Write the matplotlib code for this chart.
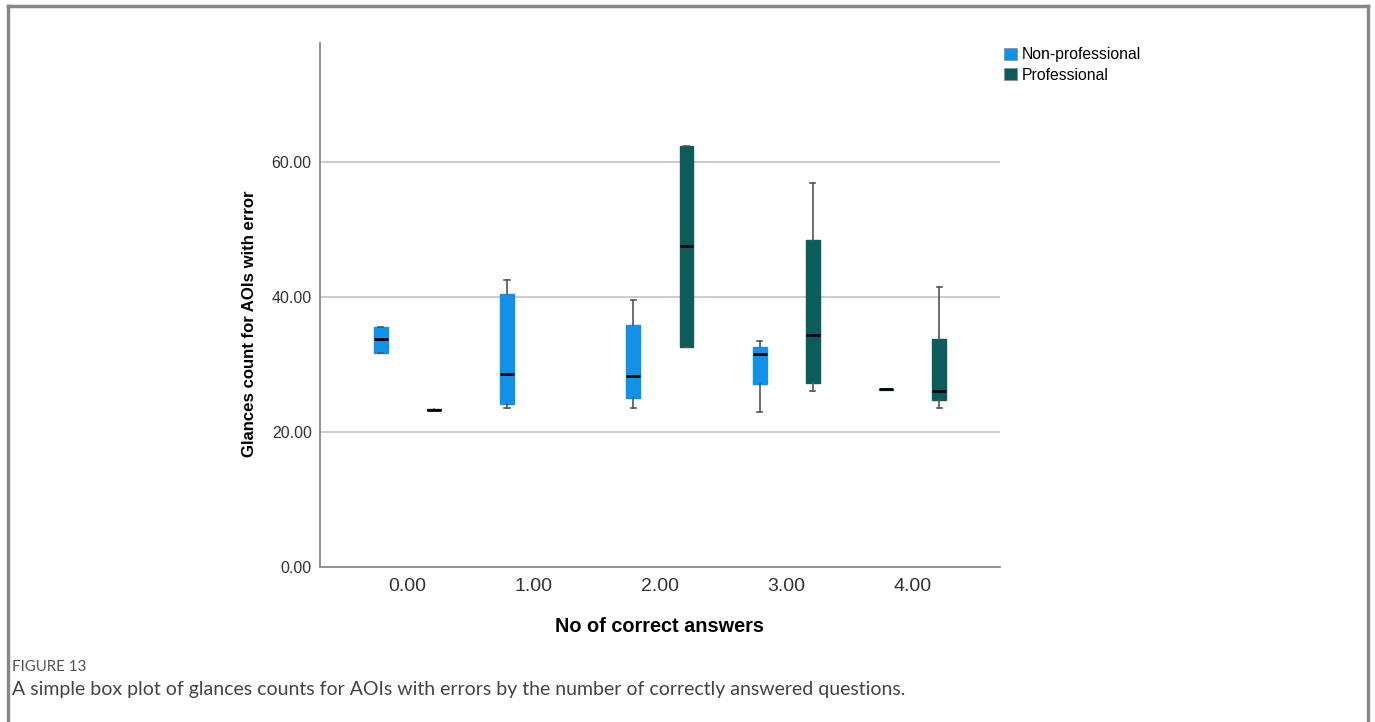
import matplotlib
matplotlib.use('Agg')
import matplotlib.pyplot as plt
from matplotlib.patches import Patch
from matplotlib.lines import Line2D

categories = ['0.00', '1.00', '2.00', '3.00', '4.00']
groups = ['Non-professional', 'Professional']
colors = ['#1192e8', '#0b5c5a']

# per category: (whislo, q1, med, q3, whishi); None = no box
nonpro = [(31.7, 31.7, 33.8, 35.6, 35.6),
          (23.6, 24.1, 28.6, 40.4, 42.5),
          (23.6, 25.0, 28.3, 35.9, 39.6),
          (23.0, 27.1, 31.6, 32.6, 33.5),
          (26.3, 26.2, 26.3, 26.4, 26.3)]
pro = [(23.3, 23.2, 23.3, 23.4, 23.3),
       None,
       (32.6, 32.6, 47.6, 62.4, 62.4),
       (26.1, 27.3, 34.3, 48.4, 56.9),
       (23.5, 24.8, 26.0, 33.7, 41.5)]

plt.rcParams['font.family'] = ['Liberation Sans', 'DejaVu Sans']
fig = plt.figure(figsize=(13.75, 7.22), dpi=100)
ax = fig.add_axes([0.2327, 0.2147, 0.4945, 0.7258])

for data, off, col in [(nonpro, -0.21, colors[0]), (pro, 0.21, colors[1])]:
    for i, d in enumerate(data):
        if d is None:
            continue
        lo, q1, med, q3, hi = d
        st = [dict(whislo=lo, q1=q1, med=med, q3=q3, whishi=hi, fliers=[])]
        ax.bxp(st, positions=[i + off], widths=0.11, patch_artist=True,
               boxprops=dict(facecolor=col, edgecolor=col, linewidth=1),
               medianprops=dict(color='black', linewidth=2),
               whiskerprops=dict(color='#555555', linewidth=1.2),
               capprops=dict(color='#555555', linewidth=1.2),
               capwidths=0.04, manage_ticks=False, zorder=3)

ax.set_xlim(-0.69, 4.69)
ax.set_ylim(0, 77.6)
ax.set_xticks(range(len(categories)))
ax.set_xticklabels(categories)
ax.set_yticks([0, 20, 40, 60])
ax.set_yticklabels(['0.00', '20.00', '40.00', '60.00'])
ax.tick_params(length=0, colors='#333333')
ax.tick_params(axis='y', labelsize=11.5, pad=6)
ax.tick_params(axis='x', labelsize=14, pad=8)
for y in [20, 40, 60]:
    ax.axhline(y, color='#c8c8c8', linewidth=1.3, zorder=1)
for s in ['top', 'right']:
    ax.spines[s].set_visible(False)
for s in ['left', 'bottom']:
    ax.spines[s].set_color('#888888')
    ax.spines[s].set_linewidth(1.3)

ax.set_xlabel('No of correct answers', fontsize=14.3, fontweight='bold', labelpad=16)
ax.set_ylabel('Glances count for AOIs with error', fontsize=12.1, fontweight='bold')
ax.yaxis.set_label_coords(-0.093, 0.464)

handles = [Patch(facecolor=c, edgecolor='#888888', linewidth=0.5) for c in colors]
fig.legend(handles, groups, loc='upper left', bbox_to_anchor=(0.7255, 0.943),
           frameon=False, fontsize=11.3, handlelength=0.85, handleheight=0.85,
           handletextpad=0.3, labelspacing=0.33, borderaxespad=0)

# figure frame
fig.add_artist(Line2D([0.006, 0.006], [0, 0.991], color='#888888', linewidth=2.5))
fig.add_artist(Line2D([0.995, 0.995], [0, 0.991], color='#888888', linewidth=2.5))
fig.add_artist(Line2D([0.006, 0.995], [0.991, 0.991], color='#888888', linewidth=2.5))

fig.text(0.009, 0.071, 'FIGURE 13', fontsize=10.8, color='#555555', family=['Lato', 'DejaVu Sans'])
fig.text(0.009, 0.038, 'A simple box plot of glances counts for AOIs with errors by the number of correctly answered questions.',
         fontsize=14, color='#444444', family=['Lato', 'DejaVu Sans'])

fig.savefig('out.png', dpi=100)
